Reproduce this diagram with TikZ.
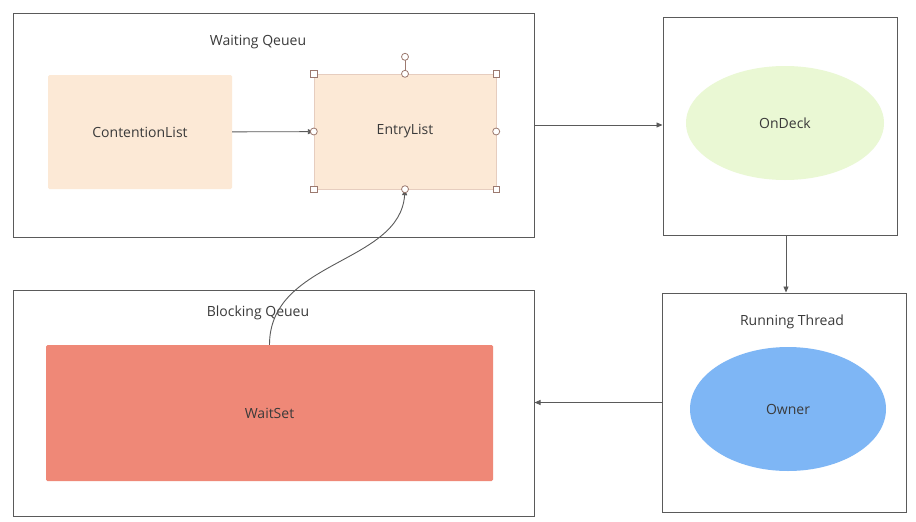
\documentclass[tikz,border=0pt]{standalone}
\usepackage{fontspec}
\setmainfont{Open Sans}
\usepackage{xcolor}
\usepackage{tikz}
\usetikzlibrary{positioning,shapes.geometric,arrows.meta}
\definecolor{framegray}{HTML}{5A5A5A}
\definecolor{txtgray}{HTML}{3A3A3A}
\definecolor{peach}{HTML}{FCE9D6}
\definecolor{peachline}{HTML}{E6CDBF}
\definecolor{handlecol}{HTML}{9C7A70}
\definecolor{lightgreen}{HTML}{EAF8D4}
\definecolor{skyblue}{HTML}{7EB6F5}
\definecolor{salmon}{HTML}{EF8877}
\tikzset{
  % --- containers -------------------------------------------------------------
  frame/.style={rectangle,draw=framegray,line width=1pt,fill=white},
  title/.style={font=\fontsize{14}{16}\selectfont,text=txtgray,inner sep=0pt},
  % --- inner shapes -----------------------------------------------------------
  block/.style={rectangle,rounded corners=1.5pt,font=\fontsize{14}{16}\selectfont,
                text=txtgray},
  oval/.style={ellipse,font=\fontsize{14}{16}\selectfont,text=txtgray,inner sep=0pt},
  % --- connectors -------------------------------------------------------------
  arr/.style={-{Triangle[length=6pt,width=5pt]},framegray,line width=0.9pt},
  % --- selection handles ------------------------------------------------------
  hsq/.style={rectangle,draw=handlecol,fill=white,line width=0.8pt,
              minimum size=6.5pt,inner sep=0pt},
  hci/.style={circle,draw=handlecol,fill=white,line width=0.8pt,
              minimum size=7pt,inner sep=0pt},
}

\begin{document}
\begin{tikzpicture}[x=1pt, y=-1pt]
  \useasboundingbox (0,0) rectangle (916,522);

  \node[frame,minimum width=521pt,minimum height=224pt] (waitq)  at (273.5,125)   {};
  \node[frame,minimum width=234pt,minimum height=218pt] (deckbox) at (780,126)   {};
  \node[frame,minimum width=244pt,minimum height=219pt] (runbox)  at (784,402.5) {};
  \node[frame,minimum width=521pt,minimum height=226pt] (blockq) at (273.5,403)   {};

  \node[title] (wqtitle) at (258,42)  {Waiting Qeueu};
  \node[title] (bqtitle) at (258,313) {Blocking Qeueu};
  \node[title] (rttitle) at (792,322) {Running Thread};

  \node[block,fill=peach,minimum width=184pt,minimum height=114pt] (contention) at (140,132) {ContentionList};
  \node[block,fill=peach,draw=peachline,rounded corners=0pt,
        minimum width=182pt,minimum height=115pt] (entry) at (405,131.5) {EntryList};
  \node[block,fill=salmon,minimum width=447pt,minimum height=136pt] (waitset) at (269.5,413) {WaitSet};

  \node[oval,fill=lightgreen,minimum width=198pt,minimum height=114pt] (ondeck) at (785,123) {OnDeck};
  \node[oval,fill=skyblue,minimum width=196pt,minimum height=124pt] (owner) at (788,409) {Owner};

  \draw[arr] (contention) -- (entry);
  \draw[arr] (waitq.east) -- (waitq.east -| deckbox.west);
  \draw[arr] ([xshift=6pt]deckbox.south) -- ([xshift=6pt]deckbox.south |- runbox.north);
  \draw[arr] (runbox.west) -- (runbox.west -| blockq.east);
  \draw[arr] (waitset.north) .. controls +(0,-85) and +(-5,75) .. (entry.south);

  % selection handles of EntryList
  \coordinate (rot) at ([yshift=17pt]entry.north);
  \draw[handlecol,line width=0.8pt] (entry.north) -- (rot);
  \node[hci] (hrot) at (rot) {};
  \foreach \a in {north west,north east,south west,south east}
    \node[hsq] at (entry.\a) {};
  \foreach \a in {north,south,west,east}
    \node[hci] at (entry.\a) {};
\end{tikzpicture}
\end{document}
